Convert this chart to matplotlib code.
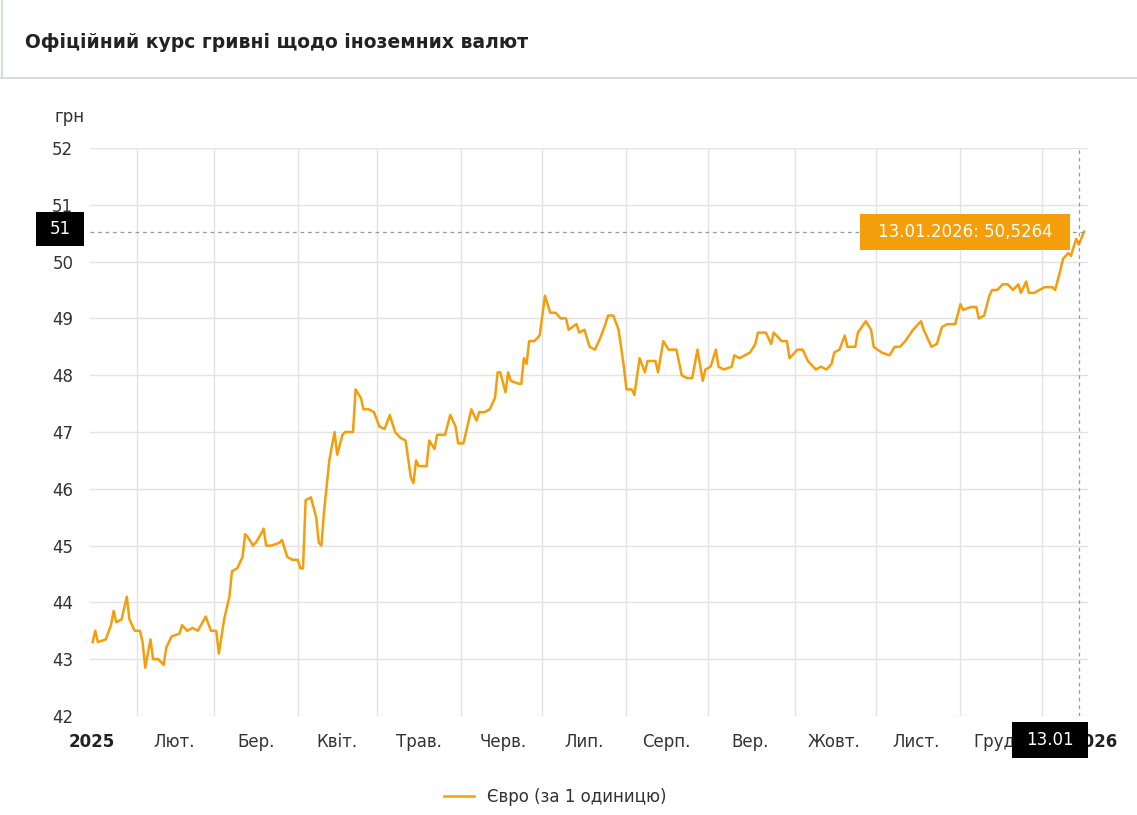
import matplotlib
matplotlib.use("Agg")
import matplotlib.pyplot as plt
from matplotlib.patches import Rectangle

days = [0,1,2,5,7,8,9,11,13,14,16,18,19,20,22,23,25,27,28,30,33,34,36,38,40,43,45,47,48,50,52,53,55,57,58,59,61,62,64,65,66,68,71,72,74,76,78,79,80,81,83,85,86,87,88,90,92,93,95,96,99,100,102,103,105,107,109,111,113,115,117,119,121,122,123,124,127,128,130,131,134,136,138,139,141,143,144,146,147,149,151,153,154,155,157,158,159,162,163,164,165,166,168,170,172,174,176,178,180,181,184,185,187,189,191,193,195,196,198,200,202,203,205,206,208,210,211,214,215,217,219,222,224,226,228,230,232,233,235,237,238,240,243,244,246,250,252,253,256,258,259,262,264,265,268,270,272,275,277,279,281,282,284,286,287,290,291,294,296,297,300,303,305,307,309,312,313,315,316,319,321,323,325,328,330,331,334,336,337,339,341,342,344,346,348,350,352,353,355,356,358,360,362,363,365,366,368,369,371,372,374,375,377]
values = [43.3,43.5,43.3,43.35,43.6,43.85,43.65,43.7,44.1,43.7,43.5,43.5,43.3,42.85,43.35,43.0,43.0,42.9,43.2,43.4,43.45,43.6,43.5,43.55,43.5,43.75,43.5,43.5,43.1,43.7,44.1,44.55,44.6,44.8,45.2,45.15,45.0,45.05,45.2,45.3,45.0,45.0,45.05,45.1,44.8,44.75,44.75,44.6,44.6,45.8,45.85,45.5,45.05,45.0,45.6,46.5,47.0,46.6,46.95,47.0,47.0,47.75,47.6,47.4,47.4,47.35,47.1,47.05,47.3,47.0,46.9,46.85,46.2,46.1,46.5,46.4,46.4,46.85,46.7,46.95,46.95,47.3,47.1,46.8,46.8,47.2,47.4,47.2,47.35,47.35,47.4,47.6,48.05,48.05,47.7,48.05,47.9,47.85,47.85,48.3,48.2,48.6,48.6,48.7,49.4,49.1,49.1,49.0,49.0,48.8,48.9,48.75,48.8,48.5,48.45,48.65,48.9,49.05,49.05,48.8,48.15,47.75,47.75,47.65,48.3,48.05,48.25,48.25,48.05,48.6,48.45,48.45,48.0,47.95,47.95,48.45,47.9,48.1,48.15,48.45,48.15,48.1,48.15,48.35,48.3,48.4,48.55,48.75,48.75,48.55,48.75,48.6,48.6,48.3,48.45,48.45,48.25,48.1,48.15,48.1,48.2,48.4,48.45,48.7,48.5,48.5,48.75,48.95,48.8,48.5,48.4,48.35,48.5,48.5,48.6,48.8,48.85,48.95,48.8,48.5,48.55,48.85,48.9,48.9,49.25,49.15,49.2,49.2,49.0,49.05,49.4,49.5,49.5,49.6,49.6,49.5,49.6,49.45,49.65,49.45,49.45,49.5,49.55,49.55,49.55,49.5,49.85,50.05,50.15,50.1,50.4,50.3,50.5264]

month_labels = ["2025","Лют.","Бер.","Квіт.","Трав.","Черв.","Лип.","Серп.","Вер.","Жовт.","Лист.","Груд.","2026"]
label_days = [1,31,62,93,124,156,187,218,250,282,313,344,379]
grid_days = [17,46,78,108,140,171,203,234,267,298,330,361]
y_ticks = [42,43,44,45,46,47,48,49,50,51,52]

W, H = 1137, 815
fig = plt.figure(figsize=(W/100, H/100), dpi=100)
fig.add_artist(plt.Line2D([0, 1], [1-78/H, 1-78/H], color="#dddddd", lw=1.5, transform=fig.transFigure))
fig.add_artist(plt.Line2D([2/W, 2/W], [1-78/H, 1], color="#cfe3d6", lw=1.5, transform=fig.transFigure))
fig.text(25/W, 1-42/H, "Офіційний курс гривні щодо іноземних валют", fontsize=13.5, fontweight="bold", va="center", ha="left", color="#222")

ax = fig.add_axes([90/W, 1-716/H, 998/W, 568/H])
ax.set_xlim(-1, 378.5)
ax.set_ylim(42, 52)
ax.plot(days, values, color="#f59e0b", lw=1.8, label="Євро (за 1 одиницю)", clip_on=False)
for s in ax.spines.values():
    s.set_visible(False)
ax.set_yticks(y_ticks)
ax.set_yticklabels([str(v) for v in y_ticks], fontsize=12, color="#333")
ax.tick_params(axis="y", length=0, pad=12)
ax.set_xticks(grid_days)
ax.set_xticklabels([])
ax.tick_params(axis="x", length=0)
ax.grid(True, color="#e3e3e3", lw=1)
for d, lab in zip(label_days, month_labels):
    bold = lab in ("2025", "2026")
    ax.text(d + (-1.5 if lab == "2025" else 0) + (2 if lab == "2026" else 0), 41.55, lab, ha="center", va="center", fontsize=12,
            fontweight="bold" if bold else "normal", color="#222" if bold else "#333", clip_on=False)
fig.text(55/W, 1-117/H, "грн", fontsize=12, color="#333", va="center")

ax.axhline(values[-1], color="#999", ls=(0, (3, 3)), lw=0.9)
ax.plot([375, 375], [42, 52], color="#999", ls=(0, (3, 3)), lw=0.9)
fig.patches.append(Rectangle((36/W, 1-246/H), 48/W, 34/H, transform=fig.transFigure, facecolor="black"))
fig.text(60/W, 1-229/H, "51", color="white", fontsize=12, ha="center", va="center")
fig.patches.append(Rectangle((860/W, 1-250/H), 210/W, 36/H, transform=fig.transFigure, facecolor="#f59e0b"))
fig.text(965/W, 1-232/H, "13.01.2026: 50,5264", color="white", fontsize=12, ha="center", va="center")
fig.patches.append(Rectangle((1012/W, 1-758/H), 76/W, 36/H, transform=fig.transFigure, facecolor="black", zorder=5))
fig.text(1050/W, 1-740/H, "13.01", color="white", fontsize=12, ha="center", va="center", zorder=6)

ax.legend(loc="upper center", bbox_to_anchor=(465/998, -0.1), frameon=False, fontsize=12,
          handlelength=1.8, labelcolor="#333")
fig.savefig("out.png", dpi=100, facecolor="white")
